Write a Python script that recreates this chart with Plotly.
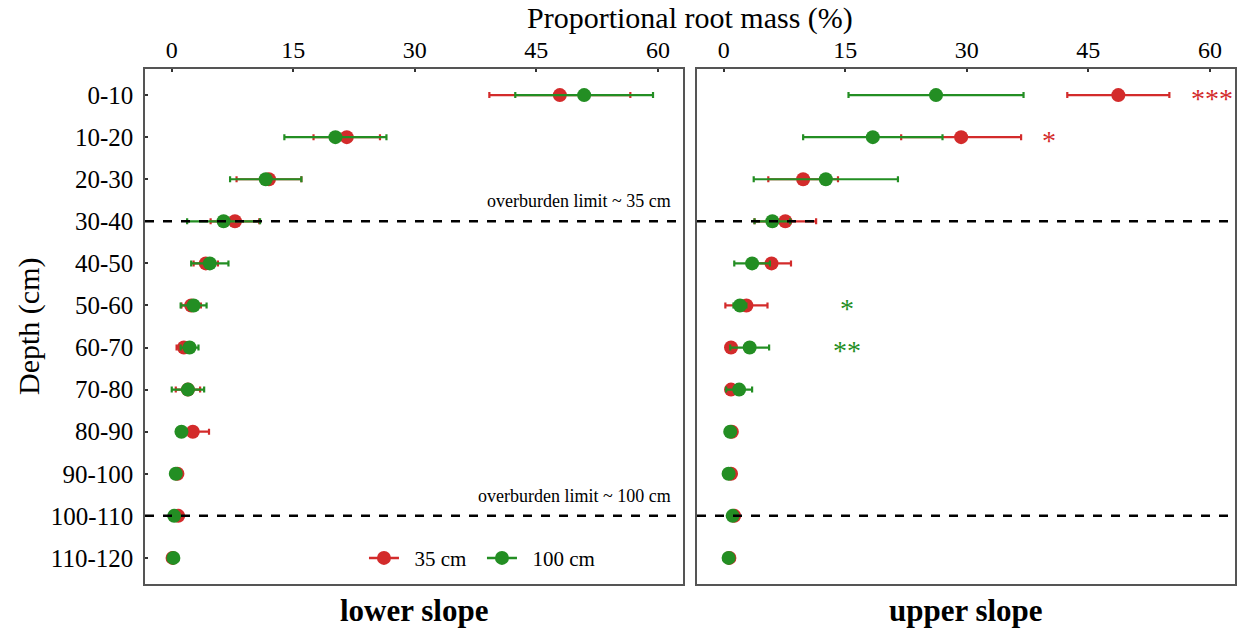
import plotly.graph_objects as go

depths = ["0-10", "10-20", "20-30", "30-40", "40-50", "50-60", "60-70",
          "70-80", "80-90", "90-100", "100-110", "110-120"]

# lower slope
low_35_mean = [47.9, 21.6, 12.0, 7.8, 4.2, 2.4, 1.5, 2.0, 2.6, 0.7, 0.8, 0.1]
low_35_err = [8.7, 4.1, 4.0, 3.0, 1.5, 1.2, 0.9, 1.5, 2.0, 0.3, 0.5, 0.1]
low_100_mean = [50.9, 20.2, 11.6, 6.4, 4.7, 2.7, 2.2, 2.0, 1.2, 0.5, 0.3, 0.2]
low_100_err = [8.5, 6.3, 4.4, 4.5, 2.3, 1.6, 1.1, 2.0, 0.3, 0.2, 0.2, 0.1]

# upper slope
up_35_mean = [48.7, 29.3, 9.8, 7.6, 5.9, 2.8, 0.9, 0.9, 1.0, 0.9, 1.3, 0.7]
up_35_err = [6.3, 7.4, 4.3, 3.8, 2.4, 2.6, 0.3, 0.6, 0.2, 0.1, 0.5, 0.6]
up_100_mean = [26.2, 18.4, 12.6, 6.0, 3.5, 2.0, 3.2, 1.9, 0.8, 0.6, 1.1, 0.6]
up_100_err = [10.8, 8.6, 8.9, 2.2, 2.2, 0.8, 2.4, 1.6, 0.2, 0.1, 0.3, 0.2]

xticks = [0, 15, 30, 45, 60]
limit_rows = [3, 10]
limit_labels = ["overburden limit ~ 35 cm", "overburden limit ~ 100 cm"]
series_names = ["35 cm", "100 cm"]

# significance marks on upper slope: (row, text, series, x position)
sig_rows = [0, 1, 5, 6]
sig_text = ["***", "*", "*", "**"]
sig_series = ["35", "35", "100", "100"]
sig_x = [60.2, 40.2, 15.2, 15.2]

RED = "#D32B2B"
GREEN = "#238E23"
FONT = "Liberation Serif"
rows = list(range(len(depths)))

fig = go.Figure()

def add_series(x, err, color, xa, ya):
    fig.add_trace(go.Scatter(
        x=x, y=rows, mode="markers", xaxis=xa, yaxis=ya, showlegend=False,
        marker=dict(color=color, size=14),
        error_x=dict(type="data", array=err, color=color, thickness=2.2, width=3),
    ))

add_series(low_35_mean, low_35_err, RED, "x", "y")
add_series(low_100_mean, low_100_err, GREEN, "x", "y")
add_series(up_35_mean, up_35_err, RED, "x2", "y2")
add_series(up_100_mean, up_100_err, GREEN, "x2", "y2")

# legend entries
for nm, col in zip(series_names, [RED, GREEN]):
    fig.add_trace(go.Scatter(x=[None], y=[None], mode="lines+markers",
                             name="\u00a0\u00a0" + nm,
                             line=dict(color=col, width=2.5), marker=dict(color=col, size=14)))

shapes = []
for r in limit_rows:
    for xr in ["x domain", "x2 domain"]:
        shapes.append(dict(type="line", xref=xr, yref="y", x0=0, x1=1, y0=r, y1=r,
                           line=dict(color="black", width=2.5, dash="dash")))

annotations = [
    dict(text="Proportional root mass (%)", xref="paper", yref="paper", x=0.557, y=1.0,
         yshift=51, showarrow=False, yanchor="middle",
         font=dict(family=FONT, size=30, color="black")),
    dict(text="Depth (cm)", xref="paper", yref="paper", x=0.023, y=0.5, textangle=-90,
         xanchor="center", yanchor="middle", showarrow=False,
         font=dict(family=FONT, size=30, color="black")),
    dict(text="<b>lower slope</b>", xref="x domain", yref="paper", x=0.5, y=0, yshift=-26,
         yanchor="middle", showarrow=False, font=dict(family=FONT, size=31, color="black")),
    dict(text="<b>upper slope</b>", xref="x2 domain", yref="paper", x=0.5, y=0, yshift=-26,
         yanchor="middle", showarrow=False, font=dict(family=FONT, size=31, color="black")),
]
for r, lab in zip(limit_rows, limit_labels):
    annotations.append(dict(text=lab, xref="x domain", yref="y", x=0.982, y=r, yshift=20,
                            xanchor="right", showarrow=False,
                            font=dict(family=FONT, size=18, color="black")))
for r, t, s, xv in zip(sig_rows, sig_text, sig_series, sig_x):
    annotations.append(dict(text=t, xref="x2", yref="y2", x=xv, y=r, yshift=-3,
                            showarrow=False,
                            font=dict(family=FONT, size=28, color=RED if s == "35" else GREEN)))

axis_common = dict(range=[-3.3, 63.1], tickvals=xticks, side="top", ticks="inside",
                   ticklen=3, tickwidth=2, tickcolor="#333", showline=True, mirror=True,
                   linecolor="#555", linewidth=1.5, showgrid=False, zeroline=False,
                   tickfont=dict(family=FONT, size=24, color="black"))
yaxis_common = dict(range=[11.62, -0.62], showline=True, mirror=True, linecolor="#555",
                    linewidth=1.5, showgrid=False, zeroline=False)

fig.update_layout(
    width=1238, height=628,
    margin=dict(l=0, r=0, t=69, b=44),
    plot_bgcolor="white", paper_bgcolor="white",
    xaxis=dict(domain=[145 / 1238, 683 / 1238], anchor="y", **axis_common),
    xaxis2=dict(domain=[697 / 1238, 1235 / 1238], anchor="y2", **axis_common),
    yaxis=dict(anchor="x", tickvals=rows, ticktext=depths, ticks="inside", ticklen=3,
               tickwidth=2, tickcolor="#333", ticklabelstandoff=5,
               tickfont=dict(family=FONT, size=25, color="black"), **yaxis_common),
    yaxis2=dict(anchor="x2", matches="y", showticklabels=False, ticks="", **yaxis_common),
    shapes=shapes,
    annotations=annotations,
    showlegend=True,
    legend=dict(orientation="h", x=0.294, y=0.05, xanchor="left", yanchor="middle",
                bgcolor="rgba(0,0,0,0)", font=dict(family=FONT, size=21, color="black"),
                entrywidth=73, entrywidthmode="pixels"),
)

fig.write_html("out.html")
